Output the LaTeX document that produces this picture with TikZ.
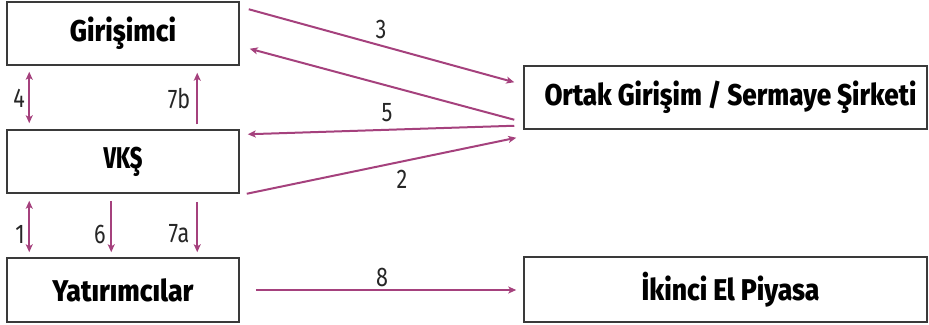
\documentclass[tikz,border=0pt]{standalone}
\usepackage{fontspec}
\usepackage{graphicx}
\usetikzlibrary{arrows.meta,calc}
\setmainfont{Fira Sans}
\newfontfamily\titlefont{Fira Sans ExtraBold}
\newfontfamily\labfont{Fira Sans}
\definecolor{flow}{RGB}{165,65,125}
\definecolor{frame}{RGB}{58,58,58}
% heavy box title squeezed to a given width
\newcommand\boxtitle[2]{\resizebox{#1}{\height}{\fontsize{30}{30}\selectfont\titlefont #2}}
% step number
\newcommand\steplabel[1]{\scalebox{0.8}[1]{\fontsize{27}{27}\selectfont\labfont #1}}
\tikzset{
  actor/.style={draw=frame, line width=1.5pt, fill=white, inner sep=0pt, minimum height=63pt},
  flowline/.style={draw=flow, line width=2pt, -{Stealth[length=8pt,width=7pt,inset=2pt]}},
  twoway/.style={draw=flow, line width=2pt, {Stealth[length=8pt,width=7pt,inset=2pt]}-{Stealth[length=8pt,width=7pt,inset=2pt]}},
  num/.style={inner sep=0pt, text=black!85}
}
\begin{document}
\begin{tikzpicture}[x=1pt,y=-1pt]
\useasboundingbox (0,0) rectangle (929,324);

% parties
\node[actor, minimum width=232pt] (gir) at (123,33.5) {\boxtitle{106pt}{Girişimci}};
\node[actor, minimum width=232pt] (vks) at (123,161.5) {\boxtitle{39pt}{VKŞ}};
\node[actor, minimum width=232pt, minimum height=64pt] (yat) at (123,290) {\boxtitle{141pt}{Yatırımcılar}};
\node[actor, minimum width=403pt] (ort) at (725.5,97.5) {\hspace*{10pt}\boxtitle{372pt}{Ortak Girişim / Sermaye Şirketi}};
\node[actor, minimum width=403pt, minimum height=65pt] (iki) at (725.5,289.5) {\hspace*{10pt}\boxtitle{178pt}{İkinci El Piyasa}};

% flows between the parties
\draw[flowline] ($(gir.north east)+(9,8)$) -- ($(ort.north west)+(-9,17)$);
\draw[flowline] ($(ort.south west)+(-9,-10)$) -- ($(gir.south east)+(10,-17)$);
\draw[flowline] ($(ort.south west)+(-9,-4)$) -- ($(vks.north east)+(8,5)$);
\draw[flowline] ($(vks.south east)+(7,0)$) -- ($(ort.south west)+(-7,8)$);
\draw[flowline] ($(yat.east)+(16,0)$) -- ($(iki.west)+(-7,0.5)$);

\draw[twoway] ($(gir.south west)+(23,6)$) -- ($(vks.north west)+(23,-6)$);
\draw[flowline] ($(vks.north west)+(191,-5)$) -- ($(gir.south west)+(191,7)$);
\draw[twoway] ($(vks.south west)+(23,7)$) -- ($(yat.north west)+(23,-5)$);
\draw[flowline] ($(vks.south west)+(105,7)$) -- ($(yat.north west)+(105,-5)$);
\draw[flowline] ($(vks.south west)+(191,8)$) -- ($(yat.north west)+(191,-5)$);

% step numbers
\node[num] (n3) at (381,29) {\steplabel{3}};
\node[num] (n5) at (387,113) {\steplabel{5}};
\node[num] (n2) at (402,179) {\steplabel{2}};
\node[num] (n8) at (382,277) {\steplabel{8}};
\node[num] (n4) at (19,98) {\steplabel{4}};
\node[num] (n7b) at (179,99) {\steplabel{7b}};
\node[num] (n1) at (20,234) {\steplabel{1}};
\node[num] (n6) at (100,234) {\steplabel{6}};
\node[num] (n7a) at (179,234) {\steplabel{7a}};
\end{tikzpicture}
\end{document}
